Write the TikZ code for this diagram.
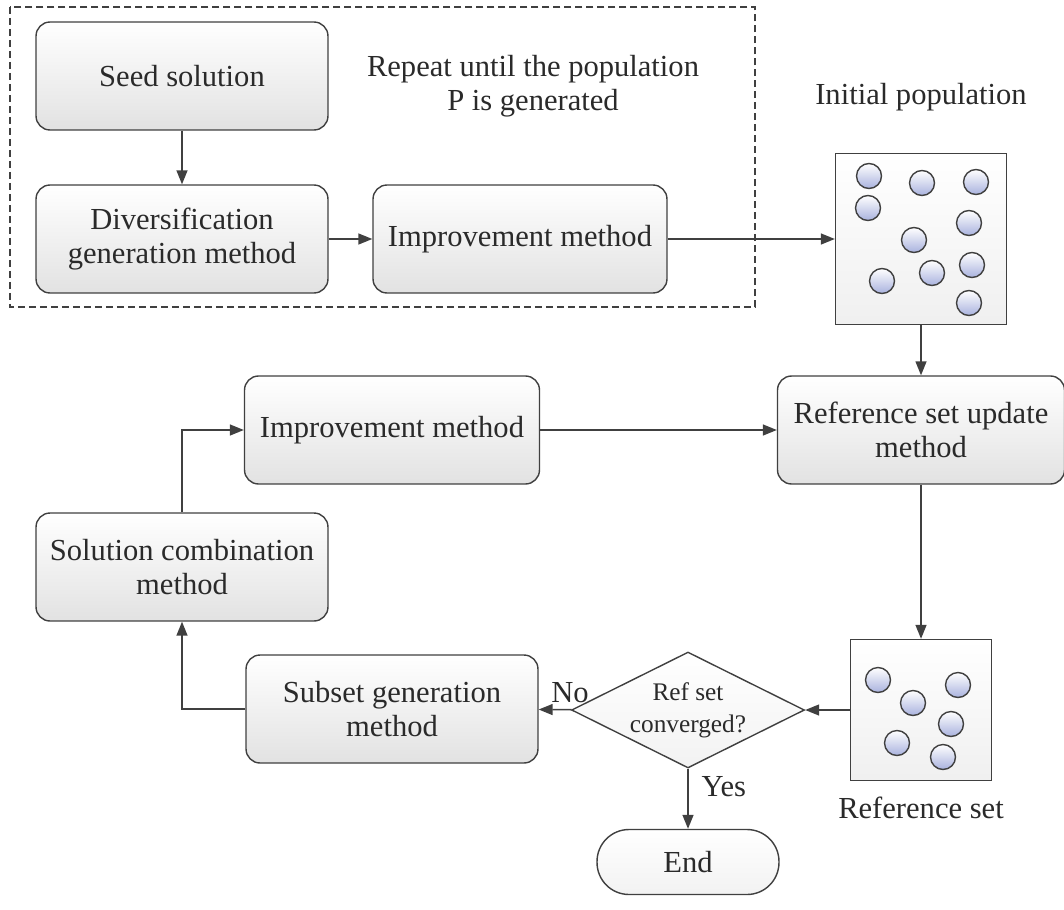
\documentclass[tikz,border=0pt]{standalone}
\usepackage{fontspec}
\setmainfont{Liberation Serif}
\usetikzlibrary{shapes.geometric,arrows.meta}

\definecolor{linegray}{HTML}{404040}
\definecolor{textgray}{HTML}{2A2A2A}
\definecolor{boxgray}{HTML}{E2E2E2}
\definecolor{dotblue}{HTML}{A9B2DE}

\begin{document}
\begin{tikzpicture}[x=0.02cm, y=-0.02cm,
    >={Triangle[length=0.28cm,width=0.22cm]},
    line width=0.8pt, draw=linegray, text=textgray,
    font=\fontsize{17.4}{19.5}\selectfont,
    box/.style={draw=linegray, rectangle, rounded corners=0.28cm,
      minimum width=5.84cm, minimum height=2.16cm,
      top color=white, bottom color=boxgray, align=center},
    popbox/.style={draw=linegray, rectangle, inner sep=0pt,
      top color=white, bottom color=gray!12},
    decision/.style={draw=linegray, diamond, aspect=2, inner sep=0pt,
      minimum width=4.66cm, minimum height=2.32cm, align=center,
      top color=white, bottom color=gray!10,
      font=\fontsize{14.4}{18}\selectfont},
    terminal/.style={draw=linegray, rectangle, rounded corners=0.64cm,
      minimum width=3.64cm, minimum height=1.3cm,
      top color=white, bottom color=gray!10},
    dot/.style={draw=linegray, top color=white, bottom color=dotblue}]

  \useasboundingbox (0,0) rectangle (1064,909);

  % loop that builds the population
  \draw[dashed, dash pattern=on 0.14cm off 0.08cm] (10,7) rectangle (755,307);
  \node (seed) [box] at (182,76) {Seed solution};
  \node (div) [box] at (182,239) {Diversification\\generation method};
  \node (imp1) [box, minimum width=5.88cm] at (520,239) {Improvement method};
  \node (repeat) [align=center] at (533,86) {Repeat until the population\\P is generated};

  \node (init) [popbox, minimum size=3.42cm] at (921,239) {};
  \node (initlabel) at (921,97) {Initial population};
  \foreach \x/\y in {869/176, 922/183, 976/182, 868/208, 969/223,
                     914/240, 882/281, 932/273, 972/265, 969/303}
    \draw[dot] (\x,\y) circle (0.25cm);

  % main loop
  \node (update) [box, minimum width=5.74cm] at (921,430) {Reference set update\\method};
  \node (imp2) [box, minimum width=5.9cm] at (392,430) {Improvement method};
  \node (comb) [box] at (182,567) {Solution combination\\method};
  \node (subset) [box] at (392,709) {Subset generation\\method};
  \node (conv) [decision] at (688,710) {Ref set\\converged?};
  \node (refset) [popbox, minimum size=2.82cm] at (921,710) {};
  \node (reflabel) at (921,808) {Reference set};
  \foreach \x/\y in {878/680, 958/685, 913/703, 951/724, 897/743, 943/757}
    \draw[dot] (\x,\y) circle (0.25cm);
  \node (end) [terminal] at (688,862) {End};

  \draw[->] (seed) -- (div);
  \draw[->] (div) -- (imp1);
  \draw[->] (imp1) -- (init);
  \draw[->] (init) -- (update);
  \draw[->] (imp2) -- (update);
  \draw[->] (update) -- (refset);
  \draw[->] (refset) -- (conv);
  \draw[->] (conv) -- node[pos=0.05, above] (no) {No} (subset);
  \draw[->] (conv) -- node[pos=0.3, right, xshift=4pt] (yes) {Yes} (end);
  \draw[->] (subset) -| (comb);
  \draw[->] (comb) |- (imp2);
\end{tikzpicture}
\end{document}
